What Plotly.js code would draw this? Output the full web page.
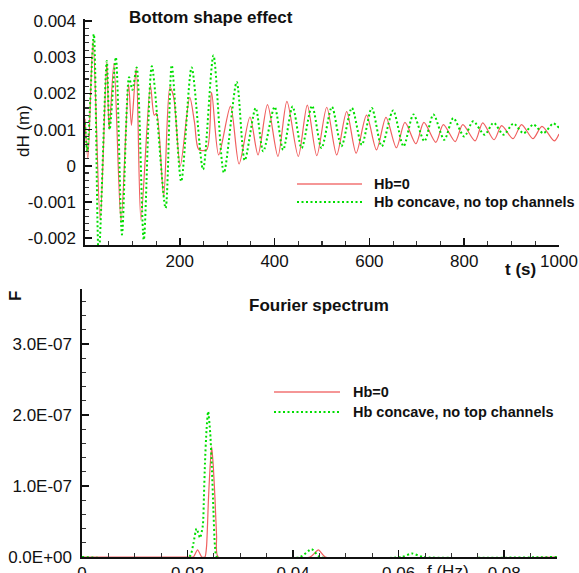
<!DOCTYPE html>
<html><head><meta charset="utf-8">
<script src="https://cdn.plot.ly/plotly-3.0.1.min.js"></script>
<style>html,body{margin:0;padding:0;background:#fff}#chart{width:579px;height:573px}</style>
</head><body><div id="chart"></div>
<script>
// ---------- data ----------
const seriesNames = ["Hb=0", "Hb concave, no top channels"];

// Top: dH (m) vs t (s), turning points of each curve
const tRed = [0, 6, 17, 32, 46, 51, 61, 76, 92, 98, 108, 118, 138, 146, 151, 166, 179, 187, 201, 221, 231, 240, 257, 267, 282, 307, 325, 348, 365, 385, 407, 426, 450, 469, 489, 510, 531, 552, 572, 594, 615, 635, 657, 675, 698, 715, 740, 756, 781, 797, 823, 839, 863, 879, 903, 921, 945, 964, 990, 1000];
const dhRed = [0.0013, 0.0002, 0.00345, -0.0015, 0.00286, 0.0010, 0.00283, -0.00155, 0.00226, 0.00112, 0.00269, -0.0015, 0.00222, 0.0014, 0.00145, -0.00084, 0.00217, 0.0019, 0.0, 0.00189, 0.0012, 0.00045, 0.00045, 0.00203, 0.0003, 0.00165, 0.00005, 0.00135, 0.0003, 0.00169, 0.00026, 0.00178, 0.00026, 0.00168, 0.00028, 0.00162, 0.0003, 0.0015, 0.00035, 0.0014, 0.00044, 0.00134, 0.0005, 0.0012, 0.00061, 0.0012, 0.00065, 0.00114, 0.00067, 0.00114, 0.00069, 0.00119, 0.00072, 0.00111, 0.00075, 0.00114, 0.00075, 0.00109, 0.00069, 0.00088];

const tGreen = [0, 5, 18.6, 29, 46, 52, 65, 78, 93, 100, 109, 124, 141, 170, 183, 203, 225, 249, 271, 293, 320, 337, 360, 376, 400, 418, 438, 457, 479, 499, 521, 541, 563, 584, 605, 626, 650, 672, 693, 716, 735, 758, 777, 800, 819, 843, 862, 883, 904, 925, 946, 967, 988, 1000];
const dhGreen = [0.0012, 0.0004, 0.00364, -0.0025, 0.0029, 0.0010, 0.0030, -0.0019, 0.00245, 0.0021, 0.00272, -0.00205, 0.00275, -0.00117, 0.00278, -0.00043, 0.00272, -0.0001, 0.00305, -0.00019, 0.00232, 0.00015, 0.0016, 0.0004, 0.00163, 0.00044, 0.00164, 0.00049, 0.00166, 0.00049, 0.00163, 0.00054, 0.0016, 0.00058, 0.0016, 0.00054, 0.00153, 0.00054, 0.00142, 0.00068, 0.00142, 0.00072, 0.00132, 0.00081, 0.00123, 0.00086, 0.00119, 0.00086, 0.00117, 0.0009, 0.00114, 0.0009, 0.00117, 0.00105];

// Bottom: Fourier spectrum F vs f (Hz)
const fRed = [0, 0.0205, 0.0211, 0.0219, 0.0227, 0.0233, 0.0236, 0.02395, 0.02427, 0.02458, 0.0249, 0.02521, 0.0255, 0.0258, 0.0432, 0.0448, 0.0461, 0.09];
const specRed = [0, 0, 0, 0.1e-7, 0, 0, 0.15e-7, 0.8e-7, 1.27e-7, 1.55e-7, 1.25e-7, 0.8e-7, 0.3e-7, 0, 0, 0.1e-7, 0, 0];

const fGreen = [0, 0.0203, 0.0211, 0.0217, 0.02237, 0.0229, 0.0231, 0.0233, 0.0236, 0.0239, 0.0243, 0.0246, 0.0249, 0.0252, 0.0256, 0.0413, 0.0435, 0.0451, 0.0606, 0.0625, 0.0647, 0.09];
const specGreen = [0, 0, 0.19e-7, 0.4e-7, 0.27e-7, 0.45e-7, 0.85e-7, 1.32e-7, 1.8e-7, 2.05e-7, 1.74e-7, 1.27e-7, 0.66e-7, 0.15e-7, 0, 0, 0.11e-7, 0, 0, 0.05e-7, 0, 0];

// tick labels
const tTicks = [200, 400, 600, 800, 1000];
const tTickText = ["200", "400", "600", "800", "1000"];
const dhTicks = [-0.002, -0.001, 0, 0.001, 0.002, 0.003, 0.004];
const dhTickText = ["-0.002", "-0.001", "0", "0.001", "0.002", "0.003", "0.004"];
const fTicks = [0, 0.02, 0.04, 0.06, 0.08];
const fTickText = ["0", "0.02", "0.04", "0.06", "0.08"];
const specTicks = [0, 1e-7, 2e-7, 3e-7];
const specTickText = ["0.0E+00", "1.0E-07", "2.0E-07", "3.0E-07"];

// ---------- drawing ----------
const W = 579, H = 573;
const px = x => x / W;
const py = y => 1 - y / H;
const RED = "rgb(240,95,95)";
const GREEN = "rgb(0,222,0)";
const FONT = "Arial, 'Liberation Sans', sans-serif";

const redLine = {color: RED, width: 1.2, shape: "spline", smoothing: 0.8};
const greenLine = {color: GREEN, width: 2, dash: "2px,2.5px", shape: "spline", smoothing: 0.8};

const traces = [
  {x: tRed, y: dhRed, name: seriesNames[0], mode: "lines", line: redLine, xaxis: "x", yaxis: "y", showlegend: false},
  {x: tGreen, y: dhGreen, name: seriesNames[1], mode: "lines", line: greenLine, xaxis: "x", yaxis: "y", showlegend: false},
  {x: fRed, y: specRed, name: seriesNames[0], mode: "lines", line: Object.assign({}, redLine, {smoothing: 0.6}), xaxis: "x2", yaxis: "y2", showlegend: false},
  {x: fGreen, y: specGreen, name: seriesNames[1], mode: "lines", line: Object.assign({}, greenLine, {smoothing: 0.6}), xaxis: "x2", yaxis: "y2", showlegend: false}
];

// minor tick positions between lo and hi every step (axis decoration only)
function minorTicks(lo, hi, step) {
  const vals = [];
  const n = Math.round((hi - lo) / step);
  for (let i = 0; i <= n; i++) vals.push(lo + i * step);
  return {tickmode: "array", tickvals: vals, ticks: "inside", ticklen: 4, tickwidth: 1.1, tickcolor: "#333", showgrid: false};
}
function axisBase(extra) {
  return Object.assign({
    showline: true, linecolor: "#111", linewidth: 1.6,
    ticks: "inside", ticklen: 7, tickwidth: 1.6, tickcolor: "#111",
    showgrid: false, zeroline: false,
    tickfont: {family: FONT, size: 17, color: "#111"},
    tickmode: "array", fixedrange: true
  }, extra);
}

const layout = {
  width: W, height: H,
  margin: {l: 0, r: 0, t: 0, b: 0},
  paper_bgcolor: "#fff", plot_bgcolor: "#fff",
  font: {family: FONT, color: "#111"},
  showlegend: false,
  xaxis: axisBase({domain: [px(85), px(559)], range: [0, 1000], anchor: "y",
    tickvals: tTicks, ticktext: tTickText, minor: minorTicks(0, 1000, 50)}),
  yaxis: axisBase({domain: [py(245), py(19)], range: [-0.00219, 0.00406], anchor: "x",
    tickvals: dhTicks, ticktext: dhTickText, ticklabelstandoff: 4, minor: minorTicks(-0.0022, 0.004, 0.0002)}),
  xaxis2: axisBase({domain: [px(82), px(557)], range: [0, 0.09], anchor: "y2",
    tickvals: fTicks, ticktext: fTickText, minor: minorTicks(0, 0.09, 0.005)}),
  yaxis2: axisBase({domain: [py(557), py(289)], range: [0, 3.775e-7], anchor: "x2",
    tickvals: specTicks, ticktext: specTickText, ticklabelstandoff: 5, minor: minorTicks(0, 3.8e-7, 0.2e-7)}),
  annotations: [
    {text: "<b>Bottom shape effect</b>", x: px(127), y: py(17), xanchor: "left", yanchor: "middle", font: {size: 17}},
    {text: "<b>t (s)</b>", x: px(520), y: py(269), xanchor: "center", yanchor: "middle", font: {size: 17}},
    {text: "dH (m)", x: px(23), y: py(131), xanchor: "center", yanchor: "middle", textangle: -90, font: {size: 17}},
    {text: "<b>Fourier spectrum</b>", x: px(247), y: py(305), xanchor: "left", yanchor: "middle", font: {size: 17}},
    {text: "<b>F</b>", x: px(15), y: py(296), xanchor: "center", yanchor: "middle", textangle: -90, font: {size: 17}},
    {text: "f (Hz)", x: px(448), y: py(571), xanchor: "center", yanchor: "middle", font: {size: 17}},
    {text: "<b>" + seriesNames[0] + "</b>", x: px(372), y: py(184), xanchor: "left", yanchor: "middle", font: {size: 14.5}},
    {text: "<b>" + seriesNames[1] + "</b>", x: px(372), y: py(202), xanchor: "left", yanchor: "middle", font: {size: 14.5}},
    {text: "<b>" + seriesNames[0] + "</b>", x: px(351), y: py(392), xanchor: "left", yanchor: "middle", font: {size: 14.5}},
    {text: "<b>" + seriesNames[1] + "</b>", x: px(351), y: py(412), xanchor: "left", yanchor: "middle", font: {size: 14.5}}
  ].map(a => Object.assign({xref: "paper", yref: "paper", showarrow: false}, a, {font: Object.assign({family: FONT, color: "#111"}, a.font)})),
  shapes: [
    {x0: px(297), x1: px(362), y0: py(184), y1: py(184), line: {color: "rgb(245,150,150)", width: 2}},
    {x0: px(297), x1: px(362), y0: py(202), y1: py(202), line: {color: GREEN, width: 2, dash: "2px,2.5px"}},
    {x0: px(274), x1: px(340), y0: py(392), y1: py(392), line: {color: "rgb(245,150,150)", width: 2}},
    {x0: px(274), x1: px(340), y0: py(412), y1: py(412), line: {color: GREEN, width: 2, dash: "2px,2.5px"}}
  ].map(s => Object.assign({type: "line", xref: "paper", yref: "paper"}, s))
};

Plotly.newPlot("chart", traces, layout, {displayModeBar: false, staticPlot: true});
</script>
</body></html>
